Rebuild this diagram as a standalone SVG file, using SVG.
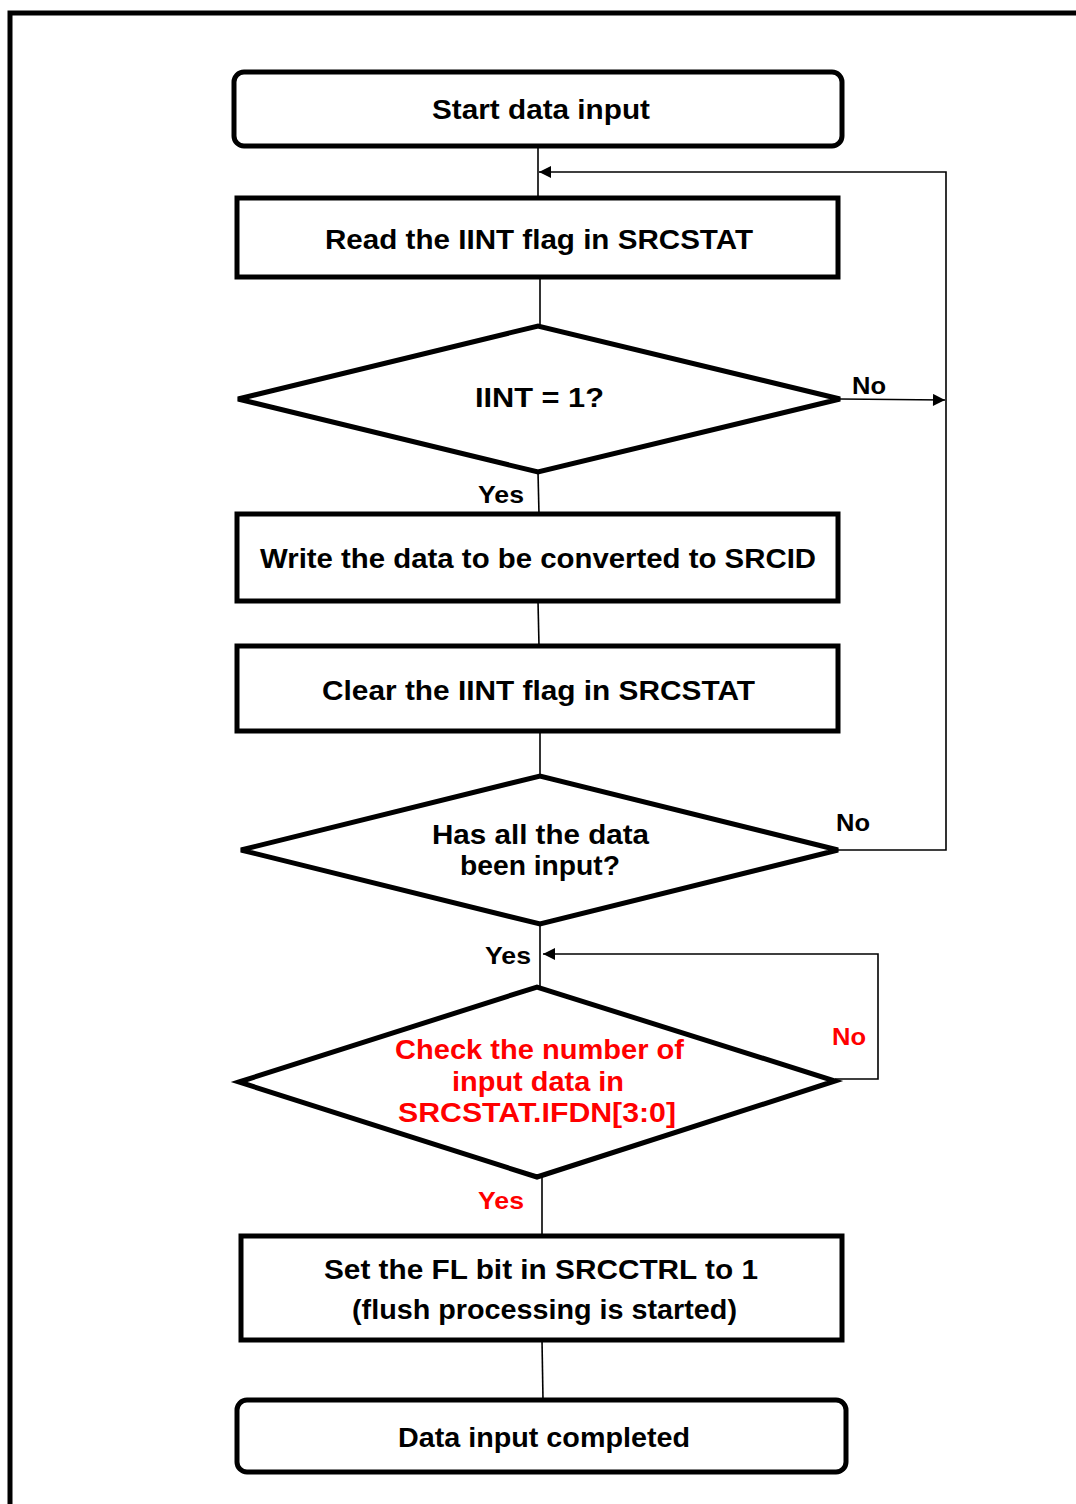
<svg xmlns="http://www.w3.org/2000/svg" width="1076" height="1504" viewBox="0 0 1076 1504">
<style>
.box{fill:#fff;stroke:#000;stroke-width:5}
.t{font-family:"Liberation Sans",Arial,sans-serif;font-size:27px;font-weight:bold;text-anchor:middle;dominant-baseline:central;fill:#000}
.lbl{font-family:"Liberation Sans",Arial,sans-serif;font-size:24px;font-weight:bold;text-anchor:middle;dominant-baseline:central;fill:#000}
.r{fill:#f00}
.c{fill:none;stroke:#000;stroke-width:1.6}
</style>
<defs>
<marker id="ah2" viewBox="0 0 10 10" refX="10" refY="5" markerWidth="15" markerHeight="12" markerUnits="userSpaceOnUse" orient="auto">
<path d="M0,0 L10,5 L0,10 z" fill="#000"/>
</marker>
</defs>
<rect width="1076" height="1504" fill="#fff"/>
<path d="M10,1504 V13 H1076" fill="none" stroke="#000" stroke-width="5"/>
<g id="connectors">
<line class="c" x1="538" y1="146" x2="538" y2="198"/>
<line class="c" x1="540" y1="277" x2="540" y2="326"/>
<line class="c" x1="538" y1="472" x2="539" y2="514"/>
<line class="c" x1="538" y1="601" x2="539" y2="646"/>
<line class="c" x1="540" y1="731" x2="540" y2="776"/>
<line class="c" x1="540" y1="924" x2="540" y2="987"/>
<line class="c" x1="542" y1="1177" x2="542" y2="1236"/>
<line class="c" x1="542" y1="1340" x2="543" y2="1400"/>
<path class="c" d="M840,399 L945,400" marker-end="url(#ah2)"/>
<path class="c" d="M838,850 H946 V172 H539" marker-end="url(#ah2)"/>
<path class="c" d="M835,1079 H878 V954 H543" marker-end="url(#ah2)"/>
</g>
<g id="start"><rect class="box" x="234" y="72" width="608" height="74" rx="10"/><text class="t" x="541" y="110" textLength="218" lengthAdjust="spacingAndGlyphs">Start data input</text></g>
<g id="read"><rect class="box" x="237" y="198" width="601" height="79"/><text class="t" x="539" y="240" textLength="428" lengthAdjust="spacingAndGlyphs">Read the IINT flag in SRCSTAT</text></g>
<g id="iint"><polygon class="box" points="238,399 538,326 840,399 538,472"/><text class="t" x="539.5" y="398" textLength="129" lengthAdjust="spacingAndGlyphs">IINT = 1?</text></g>
<text class="lbl" x="869" y="385" textLength="34" lengthAdjust="spacingAndGlyphs">No</text>
<text class="lbl" x="501" y="494" textLength="46" lengthAdjust="spacingAndGlyphs">Yes</text>
<g id="write"><rect class="box" x="237" y="514" width="601" height="87"/><text class="t" x="538" y="559" textLength="556" lengthAdjust="spacingAndGlyphs">Write the data to be converted to SRCID</text></g>
<g id="clear"><rect class="box" x="237" y="646" width="601" height="85"/><text class="t" x="538.5" y="691" textLength="433" lengthAdjust="spacingAndGlyphs">Clear the IINT flag in SRCSTAT</text></g>
<g id="all"><polygon class="box" points="241,850 540,776 838,850 540,924"/><text class="t" x="540.5" y="835" textLength="217" lengthAdjust="spacingAndGlyphs">Has all the data</text><text class="t" x="540" y="866" textLength="160" lengthAdjust="spacingAndGlyphs">been input?</text></g>
<text class="lbl" x="853" y="822" textLength="34" lengthAdjust="spacingAndGlyphs">No</text>
<text class="lbl" x="508" y="955" textLength="46" lengthAdjust="spacingAndGlyphs">Yes</text>
<g id="check"><polygon class="box" points="239,1082 537,987 835,1081 537,1177"/><text class="t r" x="539.5" y="1050" textLength="289" lengthAdjust="spacingAndGlyphs">Check the number of</text><text class="t r" x="538" y="1082" textLength="172" lengthAdjust="spacingAndGlyphs">input data in</text><text class="t r" x="537" y="1113" textLength="278" lengthAdjust="spacingAndGlyphs">SRCSTAT.IFDN[3:0]</text></g>
<text class="lbl r" x="849" y="1036" textLength="34" lengthAdjust="spacingAndGlyphs">No</text>
<text class="lbl r" x="501" y="1200" textLength="46" lengthAdjust="spacingAndGlyphs">Yes</text>
<g id="setfl"><rect class="box" x="241" y="1236" width="601" height="104"/><text class="t" x="541" y="1270" textLength="434" lengthAdjust="spacingAndGlyphs">Set the FL bit in SRCCTRL to 1</text><text class="t" x="544.5" y="1310" textLength="385" lengthAdjust="spacingAndGlyphs">(flush processing is started)</text></g>
<g id="end"><rect class="box" x="237" y="1400" width="609" height="72" rx="10"/><text class="t" x="544" y="1438" textLength="292" lengthAdjust="spacingAndGlyphs">Data input completed</text></g>
</svg>
